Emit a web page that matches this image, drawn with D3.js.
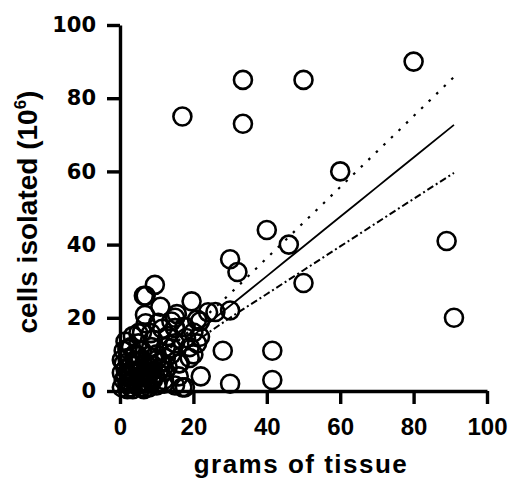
<!DOCTYPE html>
<html>
<head>
<meta charset="utf-8">
<script src="https://cdn.jsdelivr.net/npm/d3@7"></script>
<style>
  body { margin: 0; background: #fff; }
  svg { display: block; }
</style>
</head>
<body>
<div id="graph"></div>
<script>
// scatter values (grams of tissue, cells isolated x10^6)
var gramsTissue = [
    17, 33.5, 33.5, 50, 80, 60, 40, 46, 50, 89, 91, 41.5, 41.5, 30, 28, 30, 32, 30, 24, 21, 19.5, 9.5, 6.5, 11, 15.5, 22, 17, 18,
    15, 26, 21.8, 15, 17.7, 7, 6.8, 10.4, 5, 8.4, 14, 19, 16.3, 17.7, 12.3, 21.8,
    0.5, 1, 1.5, 2, 2, 2.5, 3, 3, 3.5, 4, 4, 4.5, 5, 5, 5.5, 6, 6, 6.5, 7, 7, 7.5, 8, 8, 8.5, 9, 9, 10, 10, 10.5, 11,
    1, 1.5, 3, 0.5, 2, 5, 3.5, 6, 12, 12.5, 13, 13, 14, 15, 15, 16, 16, 11.5, 14, 9, 7, 19, 20, 20, 21, 17.5, 15, 12,
    1, 2.5, 4, 5.5, 7, 8.5, 10, 3, 6, 9, 1.5, 4.5, 7.5, 11, 2, 5, 8, 0.5, 6.5, 12.5, 3.5, 9.5
];
var cellsIsolated = [
    75, 85, 73, 85, 90, 60, 44, 40, 29.5, 41, 20, 11, 3, 2, 11, 36, 32.5, 22, 21.5, 19.5, 24.5, 29, 26, 23, 21, 4, 1, 14.5,
    20, 21.6, 19, 17.2, 17.5, 26, 20.8, 18.6, 15.8, 15.8, 11.7, 9, 7.6, 1, 5.5, 14.8,
    1, 3, 6, 2, 9, 4.5, 1, 7, 3, 5, 10, 1.5, 8, 3.5, 6, 1, 11, 4, 7.5, 2, 9.5, 5, 1, 12, 3, 7, 10, 1.5, 5, 8,
    11, 13.5, 12, 5, 0.5, 13, 15, 16, 3, 12, 6.5, 15, 10, 1.5, 13, 7.5, 4, 17, 19, 14, 18.5, 12, 16, 10, 13, 17.5, 17.2, 2,
    7.5, 2.5, 8, 4, 5.5, 3, 8.5, 5.5, 2.5, 9, 4, 7, 3.5, 6, 11.5, 9.5, 6.5, 8.5, 0.5, 9, 0.5, 4.5
];

// regression line and 95% band, read at these x positions
var fitX   = [0, 10, 20, 30, 40, 50, 60, 70, 80, 91];
var fitY   = [-1, 7.1, 15.2, 23.3, 31.4, 39.5, 47.6, 55.7, 63.8, 72.7];
var upperY = [1.5, 8.7, 17.4, 26.6, 36.3, 46.0, 55.7, 65.4, 75.1, 85.8];
var lowerY = [-3.5, 5.5, 13.0, 20.0, 26.5, 33.0, 39.5, 46.0, 52.5, 59.6];

var xTicks = [0, 20, 40, 60, 80, 100];
var yTicks = [0, 20, 40, 60, 80, 100];

var svg = d3.select("#graph").append("svg")
    .attr("width", 509)
    .attr("height", 481);

var x = d3.scaleLinear().domain([0, 100]).range([120, 487]);
var y = d3.scaleLinear().domain([0, 100]).range([391, 25]);

// keep the lines inside the plot area
svg.append("defs").append("clipPath")
    .attr("id", "plot-clip")
    .append("rect")
    .attr("x", x(0)).attr("y", y(100))
    .attr("width", x(100) - x(0))
    .attr("height", y(0) - y(100));

var pts = d3.range(gramsTissue.length);

svg.append("g").selectAll("circle")
    .data(pts)
    .join("circle")
    .attr("cx", function(i) { return x(gramsTissue[i]); })
    .attr("cy", function(i) { return y(cellsIsolated[i]); })
    .attr("r", 9)
    .style("fill", "none")
    .style("stroke", "#000")
    .style("stroke-width", 2.6);

function lineFor(vals) {
    return d3.line()
        .x(function(d, i) { return x(fitX[i]); })
        .y(function(d) { return y(d); })
        .curve(d3.curveMonotoneX)(vals);
}

var lines = svg.append("g").attr("clip-path", "url(#plot-clip)");

lines.append("path")
    .attr("d", lineFor(fitY))
    .style("fill", "none")
    .style("stroke", "#000")
    .style("stroke-width", 1.8);

lines.append("path")
    .attr("d", lineFor(upperY))
    .style("fill", "none")
    .style("stroke", "#000")
    .style("stroke-width", 2.2)
    .style("stroke-dasharray", "2.5,8");

lines.append("path")
    .attr("d", lineFor(lowerY))
    .style("fill", "none")
    .style("stroke", "#000")
    .style("stroke-width", 2)
    .style("stroke-dasharray", "7,3,2,3");

// axes
var xAxis = svg.append("g")
    .attr("transform", "translate(0," + y(0) + ")")
    .call(d3.axisBottom(x).tickValues(xTicks).tickSize(13).tickSizeOuter(0).tickPadding(14));

var yAxis = svg.append("g")
    .attr("transform", "translate(" + x(0) + ",0)")
    .call(d3.axisLeft(y).tickValues(yTicks).tickSize(13).tickSizeOuter(0).tickPadding(11));

[xAxis, yAxis].forEach(function(ax) {
    ax.select(".domain").style("stroke", "#000").style("stroke-width", 3.4);
    ax.selectAll(".tick line").style("stroke", "#000").style("stroke-width", 3.4);
});

xAxis.selectAll(".tick text")
    .style("font-family", "'Liberation Sans', Arial, sans-serif")
    .style("font-weight", "bold")
    .style("font-size", "24px")
    .style("fill", "#000");

yAxis.selectAll(".tick text")
    .style("font-family", "'DejaVu Sans', sans-serif")
    .style("font-weight", "bold")
    .style("font-size", "21px")
    .style("fill", "#000");

// axis titles
svg.append("text")
    .attr("x", 301)
    .attr("y", 473)
    .attr("text-anchor", "middle")
    .style("font-family", "'Liberation Sans', Arial, sans-serif")
    .style("font-weight", "bold")
    .style("font-size", "26px")
    .style("letter-spacing", "1.5px")
    .text("grams of tissue");

var yTitle = svg.append("text")
    .attr("transform", "translate(37,212) rotate(-90)")
    .attr("text-anchor", "middle")
    .style("font-family", "'Liberation Sans', Arial, sans-serif")
    .style("font-weight", "bold")
    .style("font-size", "28px");
yTitle.append("tspan").text("cells isolated (10");
yTitle.append("tspan").attr("dy", -11).style("font-size", "17px").text("6");
yTitle.append("tspan").attr("dy", 11).text(")");
</script>
</body>
</html>
